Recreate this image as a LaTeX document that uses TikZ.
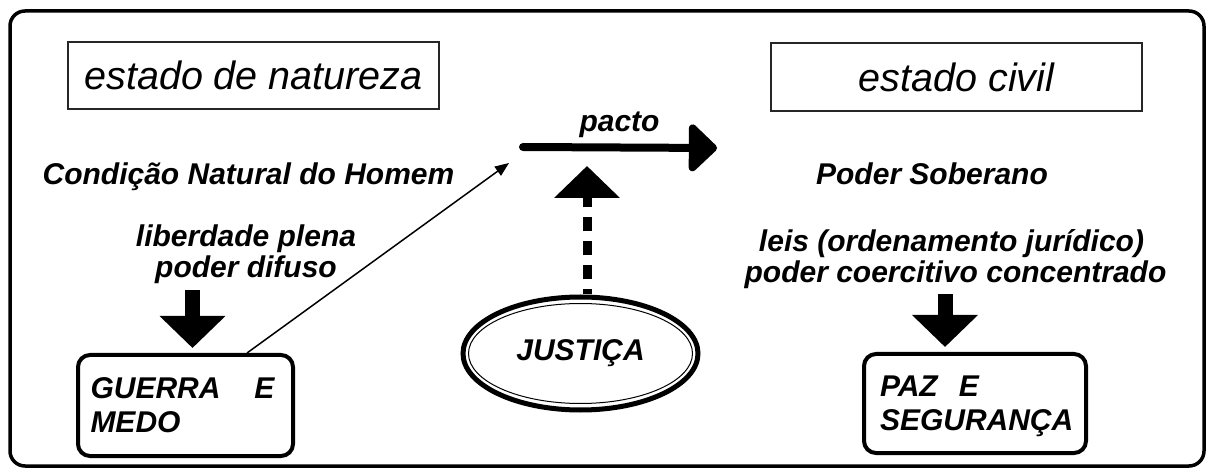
\documentclass[tikz,border=0pt]{standalone}
\usepackage{fontspec}
\setmainfont{Liberation Sans}
\usetikzlibrary{arrows.meta,shapes.geometric,calc}
\begin{document}
\begin{tikzpicture}[x=1pt,y=-1pt,
  lbl/.style={font=\fontsize{30}{34}\selectfont\bfseries\itshape, inner sep=0pt},
  titlebox/.style={draw=black!85, line width=1.5pt, inner sep=0pt,
    minimum width=371pt, minimum height=67pt,
    font=\fontsize{39.5}{44}\selectfont\itshape},
  rbox/.style={draw, line width=4pt, rounded corners=12pt, inner sep=0pt,
    align=left, text width=190pt,
    font=\fontsize{30}{34}\selectfont\bfseries\itshape},
  bigarrow/.style={line width=15pt, -{Triangle[width=64pt,length=32pt]}},
  thinarrow/.style={line width=1.5pt, -{Triangle[width=11pt,length=14pt]}}
]
\useasboundingbox (0,0) rectangle (1208,470);
% outer frame
\draw[line width=3.5pt, rounded corners=15pt] (10,11) rectangle (1204,466);

% title boxes
\node[titlebox] (nat) at (253.5,75.5) {estado de natureza};
\node[titlebox, minimum height=68pt] (civ) at (956.5,77) {estado civil};

% labels
\node[lbl, anchor=base] (cond) at (248.5,185) {Condição Natural do Homem};
\node[lbl, anchor=base] (lib1) at (246,247) {liberdade plena};
\node[lbl, anchor=base] (lib2) at (246,278) {poder difuso};
\node[lbl, anchor=base] (pacto) at (619.5,132) {pacto};
\node[lbl, anchor=base] (sob) at (932,185) {Poder Soberano};
\node[lbl, anchor=base] (leis1) at (951.5,252) {leis (ordenamento jurídico)};
\node[lbl, anchor=base] (leis2) at (955.5,283) {poder coercitivo concentrado};

% boxes
\node[rbox, minimum width=215pt, minimum height=101pt] (guerra) at (185.5,405.5)
  {\makebox[184pt]{GUERRA\hfill E}\\MEDO};
\node[rbox, minimum width=222pt, minimum height=99pt] (paz) at (975,403.5)
  {PAZ\hspace{21pt}E\\\raisebox{0pt}[\height][0pt]{SEGURANÇA}};

% justice ellipse
\node[ellipse, draw, line width=5pt, minimum width=235pt, minimum height=113pt,
  inner sep=0pt, font=\fontsize{30}{34}\selectfont\bfseries\itshape] (just) at (580.5,353.5) {JUSTIÇA};
\draw[line width=1pt] (just.center) ellipse [x radius=112, y radius=50];

% coordinates for arrows
\coordinate (axL) at (192.5,0);
\coordinate (axR) at (945,0);
\coordinate (axU) at (587,0);
\coordinate (pS) at (523,147);
\coordinate (pE) at (717,148);
\coordinate (uTip) at (587,166);
\coordinate (gOut) at (247,0);

% block arrows down
\draw[bigarrow, shorten <=6pt, shorten >=5pt] (lib2.south -| axL) -- (guerra.north -| axL);
\draw[bigarrow, shorten <=5pt, shorten >=5pt] (leis2.south -| axR) -- (paz.north -| axR);

% pacto arrow
\draw[line width=8pt, line cap=round, -{Triangle[width=55pt,length=30pt,round]}] (pS) -- (pE);

% dashed arrow from justice
\draw[line width=9pt, dash pattern=on 14pt off 10pt, dash phase=9pt,
  -{Triangle[width=64pt,length=32pt]}] (just.north -| axU) -- (uTip);

% thin arrow from guerra to pacto
\draw[thinarrow] (guerra.north -| gOut) -- ($(pS)+(-14,16)$);
\end{tikzpicture}
\end{document}
